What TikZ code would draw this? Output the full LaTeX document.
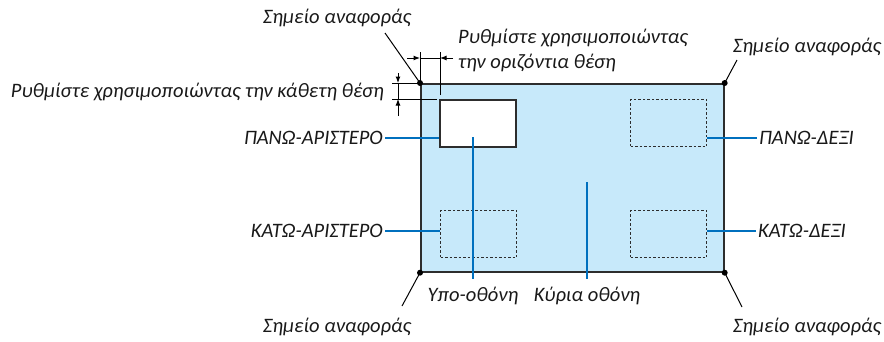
\documentclass[tikz,border=0pt]{standalone}
\usepackage{fontspec}
\setmainfont{Carlito}
\usepackage{tikz}
\usetikzlibrary{arrows.meta, positioning, calc}

\definecolor{screenblue}{RGB}{199,233,250}
\definecolor{calloutblue}{RGB}{0,112,190}
\definecolor{edgegray}{RGB}{45,45,45}

\begin{document}
\begin{tikzpicture}[
    x=1pt, y=-1pt,
    screen/.style={rectangle, draw=edgegray, line width=1.7pt, fill=screenblue,
                   minimum width=303pt, minimum height=188pt, inner sep=0pt},
    subbox/.style={rectangle, draw=edgegray, line width=1.5pt, fill=white,
                   minimum width=76pt, minimum height=47pt, inner sep=0pt},
    ghostbox/.style={rectangle, draw=edgegray, line width=1.3pt, dash pattern=on 2.5pt off 2pt,
                     minimum width=76pt, minimum height=47pt, inner sep=0pt},
    lbl/.style={font=\fontsize{20.5}{25}\selectfont\itshape, text=black!90, inner sep=2pt},
    callout/.style={draw=calloutblue, line width=2.6pt},
    leaderline/.style={draw=black, line width=1pt},
    dimline/.style={draw=black, line width=1pt},
    dimtip/.style={dimline, -{Latex[length=6.5pt, width=5pt]}},
    refdot/.style={fill=black}
]
\useasboundingbox (0,0) rectangle (884,341);

% Main screen and sub-screen windows
\node[screen, anchor=north west] (main) at (420,83) {};
\node[subbox, anchor=north west] (sub) at (439,99) {};
\node[ghostbox, anchor=north west] (tr) at (630,99) {};
\node[ghostbox, anchor=north west] (bl) at (440,210) {};
\node[ghostbox, anchor=north west] (br) at (630,210) {};

% Reference points
\foreach \c in {north west, north east, south west, south east}
    \fill[refdot] (main.\c) circle (3pt);

% Position labels
\node[lbl, anchor=east] (tllbl) at (385,138) {ΠΑΝΩ-ΑΡΙΣΤΕΡΟ};
\node[lbl, anchor=east] (bllbl) at (385,231) {ΚΑΤΩ-ΑΡΙΣΤΕΡΟ};
\node[lbl, anchor=west] (trlbl) at (757,138) {ΠΑΝΩ-ΔΕΞΙ};
\node[lbl, anchor=west] (brlbl) at (756,231) {ΚΑΤΩ-ΔΕΞΙ};
\draw[callout] (tllbl.east) -- (tllbl.east -| sub.west);
\draw[callout] (bllbl.east) -- (bllbl.east -| bl.west);
\draw[callout] (trlbl.west) -- (trlbl.west -| tr.east);
\draw[callout] (brlbl.west) -- (brlbl.west -| br.east);

% Screen labels
\coordinate (subtip) at (473,137);
\coordinate (subfoot) at (473,279);
\coordinate (maintip) at (587,182);
\coordinate (mainfoot) at (587,279);
\node[lbl, below=6pt of subfoot] (sublbl) {Υπο-οθόνη};
\node[lbl, below=6pt of mainfoot] (mainlbl) {Κύρια οθόνη};
\draw[callout] (subtip) -- (subfoot);
\draw[callout] (maintip) -- (mainfoot);

% Reference point labels
\node[lbl] (tlref) at (337,18) {Σημείο αναφοράς};
\node[lbl] (trref) at (807,47) {Σημείο αναφοράς};
\node[lbl] (blref) at (337,327) {Σημείο αναφοράς};
\node[lbl] (brref) at (807,327) {Σημείο αναφοράς};
\coordinate (tlend) at (385,33);
\coordinate (trend) at (737,60);
\coordinate (blend) at (402,306);
\coordinate (brend) at (742,307);
\draw[leaderline] (tlend) -- (main.north west);
\draw[leaderline] (trend) -- (main.north east);
\draw[leaderline] (blend) -- (main.south west);
\draw[leaderline] (brend) -- (main.south east);

% Vertical position dimension
\draw[dimline] (main.north west) -- (392,83);
\draw[dimline] (437,99) -- (392,99);
\draw[dimline] (398,83) -- (398,99);
\draw[dimtip] (398,73) -- (398,83);
\draw[dimtip] (398,116) -- (398,99);
\node[lbl, anchor=east] (vlbl) at (386,92) {Ρυθμίστε χρησιμοποιώντας την κάθετη θέση};

% Horizontal position dimension
\draw[dimline] (main.north west) -- (420,52);
\draw[dimline] (440,95) -- (440,52);
\draw[dimline] (420,58) -- (440,58);
\draw[dimtip] (407,58) -- (420,58);
\draw[dimtip] (453,58) -- (440,58);
\node[lbl, anchor=west, align=left] (hlbl) at (456,50) {Ρυθμίστε χρησιμοποιώντας\\την οριζόντια θέση};

\end{tikzpicture}
\end{document}
